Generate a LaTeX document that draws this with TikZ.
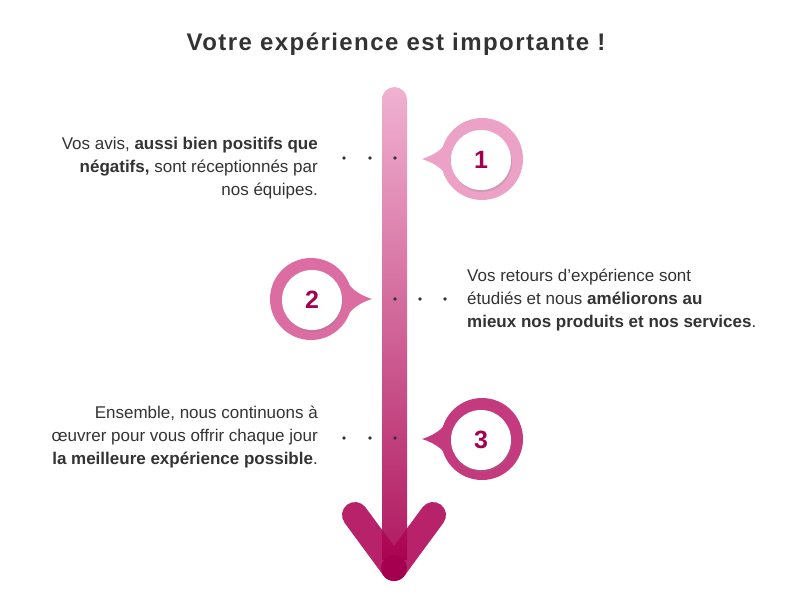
\documentclass[tikz,border=0pt]{standalone}
\usepackage{fontspec}
\setmainfont{Liberation Sans}
\usetikzlibrary{shadows}
\definecolor{txt}{HTML}{333333}
\definecolor{num}{HTML}{A3004F}
\definecolor{cone}{HTML}{ECA2C6}
\definecolor{ctwo}{HTML}{DC6DA2}
\definecolor{cthree}{HTML}{C43A7F}
\definecolor{shtop}{HTML}{F0AACD}
\definecolor{shbot}{HTML}{A8004F}
\definecolor{vtop}{HTML}{B8226A}
\definecolor{vbot}{HTML}{A5004F}
\tikzset{
  ring/.style={circle, minimum size=82pt, inner sep=0pt},
  hole/.style={circle, fill=white, minimum size=60pt, inner sep=0pt, text=num,
    font=\fontsize{25}{25}\selectfont\bfseries,
    drop shadow={opacity=0.25, shadow xshift=1pt, shadow yshift=-2pt}},
  dot/.style={circle, fill=txt, minimum size=3.8pt, inner sep=0pt},
  body/.style={text=txt, font=\fontsize{17}{23.3}\selectfont, inner sep=0pt},
  vstroke/.style={line width=26pt, line cap=round, draw=vtop}
}
\begin{document}
\begin{tikzpicture}[x=1pt,y=-1pt]
\useasboundingbox (0,0) rectangle (792,603);
\fill[white] (0,0) rectangle (792,603);
% title
\node[text=txt, font=\fontsize{24}{28}\selectfont\bfseries\addfontfeatures{LetterSpace=6}] (title) at (396,44) {Votre expérience est importante !};
% arrow head
\coordinate (vl) at (355,515);
\coordinate (vr) at (433,515);
\coordinate (vb) at (394,568);
\draw[vstroke] (vl) -- (vb);
\draw[vstroke] (vr) -- (vb);
% shaft
\shade[top color=shtop, bottom color=shbot, opacity=0.9]
  (382,560) -- (382,99.5) arc[start angle=180, end angle=360, radius=12.5] -- (407,560) -- cycle;
\fill[vbot] (vb) circle (13pt);
% circle 1
\coordinate (t1) at (422,159);
\node[ring, fill=cone] (r1) at (482,159) {};
\fill[cone] (t1) .. controls (438,154) and (446,146) .. (452,134) -- (460,159) -- (452,184) .. controls (446,172) and (438,164) .. (t1) -- cycle;
\node[hole] (n1) at (481,160) {1};
% circle 2
\coordinate (t2) at (372,299);
\node[ring, fill=ctwo] (r2) at (311,299) {};
\fill[ctwo] (t2) .. controls (356,294) and (348,286) .. (342,274) -- (334,299) -- (342,324) .. controls (348,312) and (356,304) .. (t2) -- cycle;
\node[hole] (n2) at (312,300) {2};
% circle 3
\coordinate (t3) at (422,439);
\node[ring, fill=cthree] (r3) at (482,439) {};
\fill[cthree] (t3) .. controls (438,434) and (446,426) .. (452,414) -- (460,439) -- (452,464) .. controls (446,452) and (438,444) .. (t3) -- cycle;
\node[hole] (n3) at (481,440) {3};
% dots
\node[dot] (d11) at (344,158) {};
\node[dot] (d12) at (370,158) {};
\node[dot] (d13) at (395,158) {};
\node[dot] (d21) at (395,299) {};
\node[dot] (d22) at (420,299) {};
\node[dot] (d23) at (445,299) {};
\node[dot] (d31) at (344,438) {};
\node[dot] (d32) at (370,438) {};
\node[dot] (d33) at (395,438) {};
% texts
\node[body, anchor=east, align=right] (x1) at (318,168)
  {Vos avis, \textbf{aussi bien positifs que}\\\textbf{négatifs,} sont réceptionnés par\\nos équipes.};
\node[body, anchor=west, align=left] (x2) at (467,300)
  {Vos retours d’expérience sont\\étudiés et nous \textbf{améliorons au}\\\textbf{mieux nos produits et nos services}.};
\node[body, anchor=east, align=right] (x3) at (318,437)
  {Ensemble, nous continuons à\\œuvrer pour vous offrir chaque jour\\\textbf{la meilleure expérience possible}.};
\end{tikzpicture}
\end{document}
